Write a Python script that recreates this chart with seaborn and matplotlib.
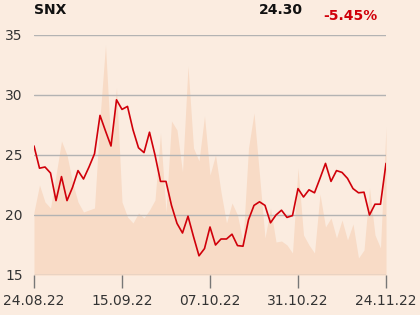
import matplotlib
matplotlib.use("Agg")
import matplotlib.pyplot as plt
import seaborn as sns
import numpy as np
import pandas as pd

# --- data ---
price = [25.75, 23.9, 24.0, 23.5, 21.2, 23.2, 21.2, 22.3, 23.7, 23.0,
         24.0, 25.1, 28.3, 27.0, 25.75, 29.6, 28.8, 29.05, 27.1, 25.6,
         25.2, 26.9, 25.0, 22.8, 22.8, 20.8, 19.3, 18.5, 19.9, 18.2,
         16.6, 17.2, 19.0, 17.5, 18.0, 18.0, 18.4, 17.45, 17.4, 19.6,
         20.8, 21.1, 20.8, 19.35, 20.0, 20.4, 19.8, 19.95, 22.2, 21.5,
         22.1, 21.85, 23.05, 24.3, 22.8, 23.7, 23.55, 23.05, 22.2, 21.85,
         21.9, 20.0, 20.9, 20.9, 24.3]
volume = [63, 90, 73, 67, 100, 134, 120, 93, 73, 63,
          65, 67, 157, 230, 127, 187, 73, 58, 52, 62,
          57, 65, 75, 142, 63, 154, 145, 103, 209, 127,
          114, 159, 100, 120, 83, 52, 72, 60, 33, 127,
          162, 100, 37, 67, 33, 34, 30, 22, 107, 40,
          30, 22, 81, 48, 57, 37, 55, 35, 51, 17,
          25, 87, 40, 27, 148]
tick_labels = ["24.08.22", "15.09.22", "07.10.22", "31.10.22", "24.11.22"]
yticks = [15, 20, 25, 30, 35]
title = "SNX"
last_value = "24.30"
change = "-5.45%"

df = pd.DataFrame({"i": np.arange(len(price)), "price": price, "volume": volume})

bg = "#FBECE0"
area_c = "#F8DBC6"
line_c = "#D0000A"
grid_c = "#B3B3B3"

sns.set_theme(style="white")
plt.rcParams["font.family"] = ["DejaVu Sans"]

fig = plt.figure(figsize=(4.2, 3.15), dpi=100, facecolor=bg)
ax2 = fig.add_axes([34/420, 1-275/315, 352/420, 240/315])
ax = fig.add_axes([34/420, 1-275/315, 352/420, 240/315], sharex=ax2)

# volume area (background)
ax2.set_facecolor(bg)
ax2.fill_between(df["i"], 0, df["volume"], color=area_c, lw=0)
ax2.set_ylim(0, 240)
ax2.set_yticks([])
for s in ax2.spines.values():
    s.set_visible(False)

# price line
ax.patch.set_visible(False)
for y in yticks:
    ax.axhline(y, color=grid_c, lw=1, zorder=1)
sns.lineplot(data=df, x="i", y="price", ax=ax, color=line_c, lw=1.2, zorder=3)
ax.set_ylim(15, 35)
ax.set_xlim(0, len(price) - 1)
ax.set_yticks(yticks)
ax.set_yticklabels([str(v) for v in yticks], color="#333333", fontsize=10)
ax.set_xticks([0, 16, 32, 48, 64])
ax.set_xticklabels(tick_labels, color="#333333", fontsize=10)
ax.tick_params(axis="y", length=0, pad=8)
ax.tick_params(axis="x", length=9.5, width=1, color="#777777", pad=4, bottom=True)
ax2.tick_params(axis="x", length=0, labelbottom=False)
ax.set_xlabel("")
ax.set_ylabel("")
for k, s in ax.spines.items():
    s.set_visible(False)

fig.text(34/420, 1-10/315, title, fontsize=10, fontweight="bold", color="#111111", va="center", ha="left")
fig.text(303/420, 1-10/315, last_value, fontsize=10, fontweight="bold", color="#111111", va="center", ha="right")
fig.text(377/420, 1-16/315, change, fontsize=10, fontweight="bold", color=line_c, va="center", ha="right")

fig.savefig("out.png", dpi=100, facecolor=bg)
